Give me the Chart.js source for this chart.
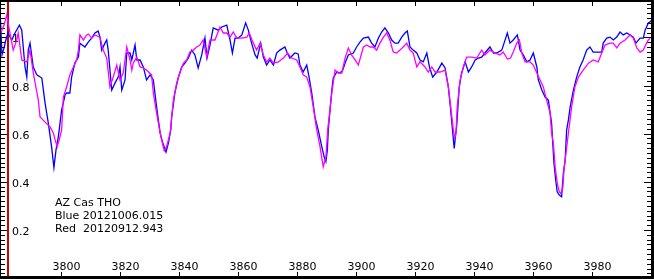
<!DOCTYPE html>
<html>
<head>
<meta charset="utf-8">
<script src="https://cdn.jsdelivr.net/npm/chart.js@4.4.1/dist/chart.umd.min.js"></script>
<style>
  html, body { margin: 0; padding: 0; background: #fff; overflow: hidden; }
  canvas { display: block; }
</style>
</head>
<body>
<canvas id="spec" width="654" height="279"></canvas>
<script>
// blue spectrum (20121006.015)
const blueWave = [3779.2,3779.9,3780.6,3781.2,3781.9,3783.2,3784.3,3785.8,3786.6,3787.7,3788.3,3788.8,3789.4,3790.5,3791.7,3793.4,3794.5,3795.6,3796.7,3797.5,3798.2,3799.0,3800.1,3801.3,3801.8,3802.9,3803.5,3804.6,3805.8,3806.3,3808.0,3809.2,3810.3,3811.4,3812.5,3813.1,3813.7,3814.8,3815.4,3815.9,3817.1,3818.2,3819.3,3819.9,3820.5,3821.6,3822.2,3823.3,3823.9,3825.0,3825.6,3826.7,3827.8,3828.9,3830.1,3831.2,3832.3,3833.5,3834.4,3835.5,3836.3,3837.1,3837.4,3838.5,3839.7,3840.8,3841.9,3843.1,3844.2,3845.3,3846.4,3847.6,3848.7,3849.4,3850.4,3851.5,3853.2,3854.4,3856.1,3857.2,3858.0,3858.9,3860.0,3861.2,3862.5,3863.4,3864.5,3865.7,3866.4,3867.6,3868.5,3869.6,3870.7,3871.9,3873.0,3874.1,3875.8,3876.6,3877.5,3879.2,3880.3,3880.9,3882.0,3883.2,3884.0,3884.9,3886.0,3887.1,3888.3,3889.1,3889.7,3890.2,3890.5,3891.7,3892.2,3893.4,3894.5,3895.4,3896.2,3897.3,3899.0,3900.1,3901.3,3902.4,3904.1,3905.2,3906.3,3907.5,3908.6,3909.7,3910.9,3912.0,3913.1,3914.2,3915.4,3916.5,3917.3,3918.2,3919.3,3920.5,3921.6,3922.7,3923.9,3924.8,3925.9,3927.3,3929.0,3930.1,3931.2,3932.0,3932.7,3933.2,3933.6,3934.0,3934.9,3935.7,3936.9,3938.0,3939.1,3940.3,3941.4,3942.5,3943.6,3945.3,3946.5,3947.6,3949.3,3950.1,3951.2,3952.1,3953.2,3954.6,3955.5,3956.6,3957.8,3958.9,3960.0,3961.2,3961.7,3962.9,3964.0,3965.1,3966.2,3967.0,3967.6,3968.1,3968.8,3969.6,3970.2,3970.8,3971.3,3971.9,3972.5,3973.6,3974.7,3975.8,3976.9,3978.1,3979.2,3980.3,3981.5,3983.2,3983.7,3984.9,3986.0,3987.1,3988.3,3989.4,3990.5,3991.7,3992.8,3993.9,3994.8,3996.2,3997.3,3997.9,3999.0,3999.6,4000.2];
const blueFlux = [1.122,0.927,0.956,0.989,1.018,0.989,1.018,1.051,1.030,0.877,0.835,0.947,0.976,0.877,0.844,0.831,0.727,0.644,0.546,0.459,0.532,0.587,0.698,0.761,0.769,0.769,0.835,0.893,0.918,0.976,0.960,0.981,0.997,1.018,1.026,1.001,0.947,0.976,0.989,0.947,0.781,0.810,0.835,0.877,0.781,0.823,0.935,0.935,0.906,0.968,0.906,0.906,0.877,0.823,0.844,0.823,0.711,0.603,0.561,0.524,0.561,0.615,0.669,0.769,0.835,0.877,0.893,0.914,0.947,0.927,0.873,0.927,0.997,0.914,0.968,1.039,1.030,1.043,1.051,0.989,0.935,0.997,0.997,1.010,1.060,1.030,0.976,0.927,0.914,0.976,0.918,0.885,0.906,0.885,0.935,0.947,0.960,0.935,0.914,0.935,0.931,0.885,0.856,0.885,0.835,0.769,0.669,0.615,0.546,0.504,0.484,0.532,0.615,0.781,0.831,0.856,0.852,0.864,0.893,0.927,0.935,0.960,0.981,0.997,1.001,0.976,0.960,0.997,1.022,1.039,1.018,0.989,0.976,0.976,1.001,1.018,1.026,0.960,0.947,0.935,0.906,0.898,0.935,0.877,0.835,0.856,0.893,0.873,0.794,0.698,0.603,0.539,0.587,0.628,0.794,0.852,0.898,0.856,0.877,0.906,0.914,0.918,0.935,0.960,0.935,0.935,0.947,0.976,1.018,0.976,0.989,1.010,0.947,0.927,0.898,0.906,0.935,0.877,0.823,0.781,0.752,0.740,0.644,0.478,0.408,0.359,0.345,0.338,0.437,0.491,0.615,0.657,0.711,0.781,0.835,0.877,0.906,0.947,0.960,0.939,0.939,0.939,0.976,0.997,1.001,0.989,1.001,1.022,1.010,1.018,1.010,1.001,0.976,0.997,0.997,1.030,1.060,1.064,1.072];

// magenta spectrum (20120912.943)
const redWave = [3779.2,3779.9,3780.6,3781.5,3782.4,3783.7,3784.9,3785.4,3786.6,3788.3,3789.4,3790.5,3792.2,3792.8,3794.5,3796.2,3797.3,3797.9,3798.6,3799.3,3800.1,3800.7,3801.8,3802.9,3804.1,3805.2,3805.8,3806.3,3807.5,3808.6,3809.2,3810.3,3811.4,3813.1,3814.2,3815.4,3816.5,3817.6,3818.8,3819.9,3821.0,3822.2,3823.3,3823.9,3824.4,3825.6,3826.7,3827.8,3828.9,3830.6,3831.2,3832.3,3833.5,3834.0,3834.9,3835.7,3836.9,3838.0,3839.1,3840.2,3841.4,3842.5,3843.6,3844.7,3845.9,3847.0,3848.1,3849.3,3850.4,3852.1,3853.8,3854.9,3856.1,3857.2,3858.3,3859.5,3861.2,3862.9,3863.7,3865.1,3866.2,3867.4,3868.5,3869.6,3870.7,3871.9,3873.6,3875.3,3876.7,3878.1,3879.8,3880.9,3882.0,3883.2,3884.3,3885.4,3886.6,3887.7,3888.4,3888.8,3889.7,3890.3,3891.7,3892.8,3893.9,3895.1,3896.2,3897.3,3898.4,3899.6,3900.7,3902.4,3903.5,3904.7,3905.8,3906.9,3908.0,3909.2,3910.3,3911.4,3912.5,3913.7,3914.8,3915.9,3917.1,3918.2,3919.3,3920.5,3921.6,3923.3,3924.4,3925.6,3926.7,3928.4,3930.1,3931.2,3932.0,3932.9,3933.4,3933.8,3934.2,3935.2,3936.3,3937.4,3939.1,3940.8,3942.5,3943.6,3945.3,3947.0,3948.7,3949.8,3951.2,3952.3,3953.2,3954.4,3955.3,3956.1,3957.2,3958.9,3960.0,3961.2,3962.3,3963.4,3964.5,3965.7,3966.2,3966.8,3967.4,3968.1,3968.8,3969.3,3970.0,3970.4,3971.1,3971.9,3973.0,3974.1,3975.3,3976.9,3978.7,3980.3,3982.0,3983.2,3984.3,3986.0,3987.1,3988.3,3989.4,3991.1,3992.8,3993.9,3995.1,3996.2,3997.3,3998.4,3999.0,3999.6];
const redFlux = [1.010,1.030,1.051,1.093,1.030,0.947,0.989,1.018,0.906,0.898,0.947,0.852,0.740,0.669,0.648,0.628,0.603,0.574,0.546,0.574,0.615,0.752,0.794,0.844,0.877,0.906,0.947,1.010,0.989,1.010,1.014,0.997,1.010,1.001,0.947,0.914,0.794,0.835,0.885,0.823,0.852,0.960,0.906,0.864,0.893,0.918,0.877,0.873,0.864,0.844,0.769,0.686,0.603,0.574,0.529,0.546,0.603,0.740,0.810,0.852,0.893,0.906,0.939,0.947,0.960,0.968,0.989,0.918,0.989,0.989,1.043,1.018,1.018,1.001,1.022,0.997,0.997,1.001,1.018,0.976,0.947,0.976,0.927,0.898,0.914,0.893,0.898,0.914,0.935,0.914,0.906,0.877,0.844,0.835,0.794,0.711,0.615,0.546,0.491,0.463,0.504,0.615,0.769,0.864,0.852,0.852,0.914,0.956,0.927,0.906,0.885,0.960,0.968,0.960,0.960,0.947,0.976,1.001,1.018,0.989,0.939,0.935,0.947,0.960,0.976,0.947,0.935,0.877,0.898,0.877,0.856,0.877,0.856,0.856,0.864,0.794,0.711,0.615,0.582,0.603,0.711,0.823,0.877,0.918,0.918,0.914,0.947,0.927,0.947,0.935,0.927,0.939,0.910,0.914,0.939,0.976,0.989,0.935,0.898,0.898,0.885,0.852,0.823,0.794,0.740,0.686,0.603,0.561,0.463,0.395,0.359,0.352,0.374,0.449,0.520,0.603,0.711,0.794,0.835,0.864,0.893,0.906,0.898,0.935,0.968,0.976,0.976,0.956,0.976,0.989,1.010,0.997,0.956,0.939,0.947,0.976,0.989,0.997];

const xTicks = [3800, 3820, 3840, 3860, 3880, 3900, 3920, 3940, 3960, 3980];
const yTicks = [0.2, 0.4, 0.6, 0.8, 1.0];
const yTickLabels = ['0.2', '0.4', '0.6', '0.8', '1'];
const legendLines = ['AZ Cas THO', 'Blue 20121006.015', 'Red  20120912.943'];
const markerWave = 3781.9;

const toPoints = (w, f) => w.map((x, i) => ({x: x, y: f[i]}));

const frame = {
    id: 'frame',
    beforeDatasetsDraw(chart) {
        const ctx = chart.ctx
        const xs = chart.scales.x, ys = chart.scales.y
        const W = chart.width, H = chart.height
        ctx.save()
        ctx.fillStyle = '#000'
        // minor y ticks every 0.02, both sides
        for (let v = 0.02; v < ys.max; v += 0.02) {
            const py = Math.round(ys.getPixelForValue(v))
            ctx.fillRect(1, py, 4, 1)
            ctx.fillRect(W - 7, py, 4, 1)
        }
        ctx.font = '11px "DejaVu Sans"'
        ctx.textBaseline = 'alphabetic'
        ctx.textAlign = 'left'
        yTicks.forEach((v, i) => {
            const py = Math.round(ys.getPixelForValue(v))
            ctx.fillRect(1, py, 7, 1)
            ctx.fillRect(W - 10, py, 7, 1)
            ctx.fillText(yTickLabels[i], 12, py + 4.5)
        })
        ctx.textAlign = 'center'
        xTicks.forEach((v) => {
            const px = Math.round(xs.getPixelForValue(v))
            ctx.fillRect(px, 0, 1, 6)
            ctx.fillRect(px, H - 7, 1, 5)
            ctx.fillText(String(v), px + 5.5, H - 9)
        })
        ctx.textAlign = 'left'
        legendLines.forEach((t, i) => {
            ctx.fillText(t, 55, 206 + i * 13.2)
        })
        // red marker line
        const mx = Math.round(xs.getPixelForValue(markerWave))
        ctx.fillStyle = '#cc0000'
        ctx.fillRect(mx - 1, 0, 2, H)
        ctx.restore()
    },
    afterDraw(chart) {
        const ctx = chart.ctx
        const W = chart.width, H = chart.height
        ctx.save()
        ctx.fillStyle = '#000'
        ctx.fillRect(0, 0, W, 2)
        ctx.fillRect(0, H - 3, W, 3)
        ctx.fillRect(0, 0, 1, H)
        ctx.fillRect(W - 3, 0, 3, H)
        ctx.restore()
    }
}

new Chart(document.getElementById('spec'), {
    type: 'line',
    data: {
        datasets: [
            {
                label: 'Red',
                data: toPoints(redWave, redFlux),
                borderColor: '#ff00ff',
                borderWidth: 1.3,
                pointRadius: 0,
                tension: 0
            },
            {
                label: 'Blue',
                data: toPoints(blueWave, blueFlux),
                borderColor: '#0000ff',
                borderWidth: 1.3,
                pointRadius: 0,
                tension: 0
            }
        ]
    },
    options: {
        responsive: false,
        animation: false,
        layout: {padding: {left: 1, right: 2, top: 1, bottom: 2}},
        plugins: {legend: {display: false}, tooltip: {enabled: false}},
        scales: {
            x: {type: 'linear', display: false, min: 3779.56, max: 4000.24},
            y: {type: 'linear', display: false, min: 0.0049, max: 1.1509}
        }
    },
    plugins: [frame]
})
</script>
</body>
</html>
